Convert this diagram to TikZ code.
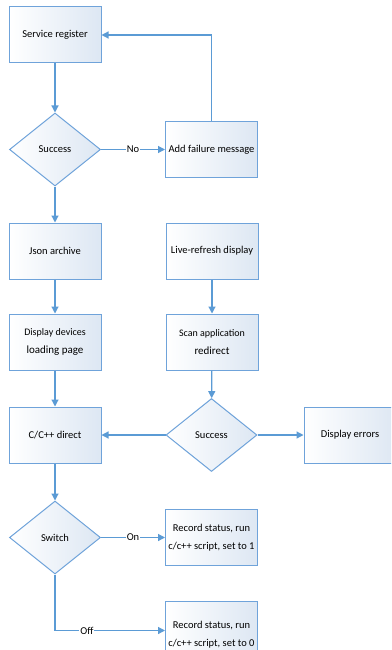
\documentclass[tikz,border=0pt]{standalone}
\usepackage{fontspec}
\setmainfont{Carlito}
\usetikzlibrary{arrows.meta,positioning,shapes.geometric}
\definecolor{flow}{HTML}{5B9BD5}
\definecolor{edge}{HTML}{6FA3DA}
\definecolor{tint}{HTML}{DDE7F3}
\begin{document}
\begin{tikzpicture}[x=1pt,y=-1pt,node distance=35pt and 64pt,
 box/.style={draw=edge,line width=1pt,left color=white,right color=tint,align=center,font=\fontsize{10.5}{18}\selectfont,minimum width=92pt,minimum height=56pt,inner sep=2pt},
 choice/.style={diamond,draw=edge,line width=1pt,left color=white,right color=tint,font=\fontsize{10.5}{12.5}\selectfont,minimum width=91pt,minimum height=73pt,inner sep=0pt},
 arr/.style={-{Triangle[length=7pt,width=7pt]},draw=flow,line width=1.2pt},
 tag/.style={fill=white,inner sep=1pt,font=\fontsize{10.5}{12.5}\selectfont}]
\clip (0,0) rectangle (391,650);
\fill[white] (0,0) rectangle (391,650);
\node[box] (reg) at (55,35) {Service register};
\node[choice,below=49pt of reg] (ok) {Success};
\node[box,right=of ok] (fail) {Add failure message};
\node[box,below=36pt of ok] (json) {Json archive};
\node[box,right=of json] (live) {Live-refresh display};
\node[box,below=34pt of json] (load) {{\fontsize{10}{17}\selectfont Display devices}\\{\fontsize{11}{17}\selectfont loading page}};
\node[box,below=34pt of live] (scan) {{\fontsize{10}{17}\selectfont Scan application}\\{\fontsize{11}{17}\selectfont redirect}};
\node[box,below=36pt of load] (cpp) {C/C++ direct};
\node[choice,right=of cpp] (ok2) {Success};
\node[box,right=46pt of ok2] (err) {Display errors};
\node[choice,below=37pt of cpp] (sw) {Switch};
\node[box,right=of sw] (on) {Record status, run\\c/c++ script, set to 1};
\node[box,below=35pt of on,minimum height=66pt] (off) {Record status, run\\c/c++ script, set to 0};
\draw[arr] (reg)--(ok);
\draw[arr] (ok)--node[tag]{No}(fail);
\draw[arr] (fail.north)|-(reg.east);
\draw[arr] (ok)--(json);\draw[arr] (json)--(load);\draw[arr] (load)--(cpp);
\draw[arr] (live)--(scan);\draw[arr] (scan)--(ok2);
\draw[arr] (ok2)--(cpp);\draw[arr] (ok2)--(err);
\draw[arr] (cpp)--(sw);
\draw[arr] (sw)--node[tag]{On}(on);
\draw[arr] (sw.south)|-node[tag,pos=0.645]{Off}([yshift=4pt]off.west);
\end{tikzpicture}
\end{document}
